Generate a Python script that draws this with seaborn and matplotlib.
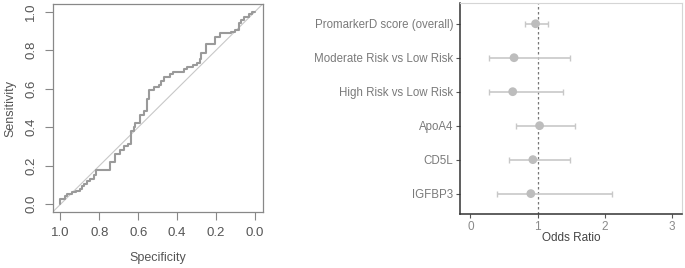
import numpy as np
import pandas as pd
import matplotlib
matplotlib.use("Agg")
import matplotlib.pyplot as plt
import seaborn as sns

# ROC curve (step corners)
specificity = [1.000, 0.979, 0.967, 0.942, 0.919, 0.902, 0.890, 0.878, 0.864, 0.847,
               0.825, 0.816, 0.744, 0.718, 0.692, 0.675, 0.655, 0.636, 0.624, 0.615,
               0.589, 0.569, 0.555, 0.543, 0.521, 0.495, 0.483, 0.469, 0.435, 0.421,
               0.366, 0.349, 0.318, 0.297, 0.284, 0.275, 0.254, 0.203, 0.177, 0.125,
               0.103, 0.082, 0.074, 0.057, 0.031, 0.014, 0.000]
sensitivity = [0.000, 0.028, 0.041, 0.052, 0.062, 0.069, 0.079, 0.093, 0.105, 0.119,
               0.131, 0.150, 0.180, 0.221, 0.263, 0.280, 0.301, 0.314, 0.378, 0.399,
               0.421, 0.465, 0.482, 0.546, 0.591, 0.608, 0.620, 0.641, 0.660, 0.677,
               0.689, 0.703, 0.712, 0.724, 0.736, 0.753, 0.784, 0.832, 0.870, 0.888,
               0.896, 0.905, 0.943, 0.957, 0.974, 0.988, 1.000]

# Odds ratios with 95% CI
terms = ["PromarkerD score (overall)", "Moderate Risk vs Low Risk", "High Risk vs Low Risk",
         "ApoA4", "CD5L", "IGFBP3"]
odds_ratio = [0.97, 0.65, 0.63, 1.03, 0.93, 0.90]
ci_low = [0.82, 0.28, 0.28, 0.68, 0.57, 0.39]
ci_high = [1.16, 1.49, 1.38, 1.56, 1.48, 2.11]

sns.set_style("white")
plt.rcParams['font.family'] = ['Liberation Sans', 'DejaVu Sans']

fig = plt.figure(figsize=(6.85, 2.68), dpi=100)

# ---- ROC panel ----
ax1 = fig.add_axes([0.0769, 0.209, 0.3066, 0.776])
roc = pd.DataFrame({'spec': specificity, 'sens': sensitivity})
sns.lineplot(data=roc, x='spec', y='sens', sort=False, estimator=None,
             drawstyle='steps-pre', color='#9a9a9a', linewidth=1.5, ax=ax1)
ax1.axline((1, 0), (0, 1), color='#c8c8c8', linewidth=0.8, zorder=1)
ax1.set_xlim(1.04, -0.04)
ax1.set_ylim(-0.04, 1.04)
ticks = [0.0, 0.2, 0.4, 0.6, 0.8, 1.0]
ax1.set_xticks(ticks)
ax1.set_yticks(ticks)
ax1.set_xticklabels([f"{t:.1f}" for t in ticks])
ax1.set_yticklabels([f"{t:.1f}" for t in ticks], rotation=90, va='center')
ax1.tick_params(bottom=True, left=True, direction='out', length=6, width=0.8,
                color='#888888', labelcolor='#555555', labelsize=9.5)
ax1.tick_params(axis='x', pad=5)
ax1.tick_params(axis='y', pad=5)
for s in ax1.spines.values():
    s.set_color('#888888')
    s.set_linewidth(0.9)
ax1.set_xlabel('Specificity', fontsize=9, color='#555555')
ax1.set_ylabel('Sensitivity', fontsize=9, color='#555555')
ax1.xaxis.set_label_coords(0.5, -0.221)
ax1.xaxis.label.set_va('center')
ax1.yaxis.set_label_coords(-0.203, 0.5)
ax1.yaxis.label.set_va('center')

# ---- Forest panel ----
ax2 = fig.add_axes([0.672, 0.2015, 0.3236, 0.786])
forest = pd.DataFrame({'term': terms, 'or': odds_ratio, 'lo': ci_low, 'hi': ci_high})
forest['pos'] = np.arange(len(terms))[::-1]
ax2.axvline(1, color='#777777', linestyle=(0, (2, 2)), linewidth=0.9, zorder=1)
ax2.errorbar(forest['or'], forest['pos'],
             xerr=[forest['or'] - forest['lo'], forest['hi'] - forest['or']],
             fmt='none', ecolor='#c8c8c8', elinewidth=1.2, capsize=2, capthick=1.0, zorder=2)
sns.scatterplot(data=forest, x='or', y='pos', color='#bdbdbd', s=40,
                edgecolor='none', zorder=3, ax=ax2)
ax2.set_xlim(-0.15, 3.15)
ax2.set_ylim(-0.6, len(terms) - 0.4)
ax2.set_xticks([0, 1, 2, 3])
ax2.set_yticks(forest['pos'])
ax2.set_yticklabels(forest['term'])
ax2.tick_params(bottom=True, left=True, direction='out', length=3, width=0.8,
                color='#555555', pad=2)
ax2.tick_params(axis='y', labelcolor='#7a7a7a', labelsize=8.3)
ax2.tick_params(axis='x', labelcolor='#8a8a8a', labelsize=8.5)
ax2.spines['left'].set_color('#333333')
ax2.spines['bottom'].set_color('#333333')
ax2.spines['left'].set_linewidth(1.1)
ax2.spines['bottom'].set_linewidth(1.1)
ax2.spines['top'].set_color('#d5d5d5')
ax2.spines['right'].set_color('#d5d5d5')
ax2.set_xlabel('Odds Ratio', fontsize=8.5, color='#444444')
ax2.set_ylabel('')
ax2.xaxis.set_label_coords(0.5, -0.114)
ax2.xaxis.label.set_va('center')

fig.savefig('out.png', dpi=100)
